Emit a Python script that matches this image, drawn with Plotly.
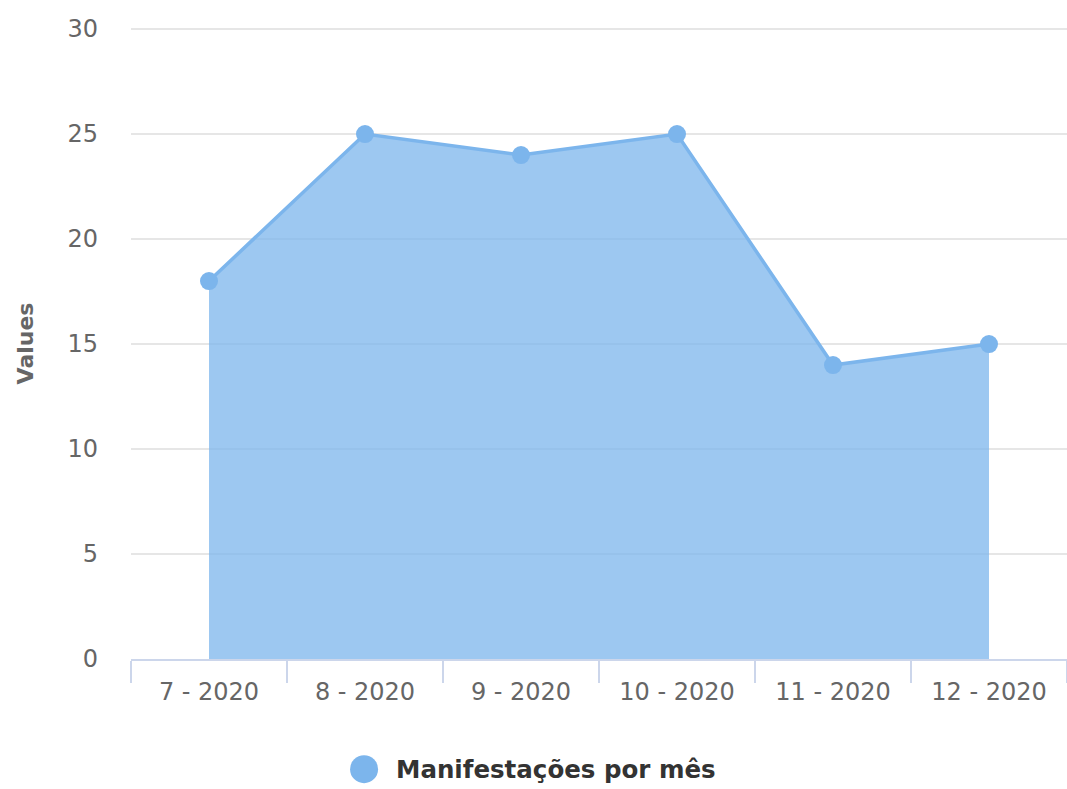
import plotly.graph_objects as go

categories = ["7 - 2020", "8 - 2020", "9 - 2020", "10 - 2020", "11 - 2020", "12 - 2020"]
values = [18, 25, 24, 25, 14, 15]
series_name = "Manifestações por mês"
y_ticks = [0, 5, 10, 15, 20, 25, 30]

COLOR = "#7cb5ec"
FONT = "DejaVu Sans, Verdana, sans-serif"

fig = go.Figure()
fig.add_trace(go.Scatter(
    x=categories, y=values, name=series_name,
    mode="lines+markers",
    fill="tozeroy",
    fillcolor="rgba(124,181,236,0.75)",
    line=dict(color=COLOR, width=3.5),
    marker=dict(color=COLOR, size=18),
    showlegend=False,
))

# Highcharts-style legend: circle symbol + bold label, centred below the plot
fig.add_shape(type="circle", xref="paper", yref="paper",
              xsizemode="pixel", ysizemode="pixel",
              xanchor=0.249, yanchor=-0.1746,
              x0=-14, x1=14, y0=-14, y1=14,
              fillcolor=COLOR, line=dict(width=0))
fig.add_annotation(text="<b>" + series_name + "</b>", xref="paper", yref="paper",
                   x=0.2815, y=-0.1746, xanchor="left", yanchor="middle",
                   showarrow=False,
                   font=dict(family=FONT, size=24.5, color="#333333"))

fig.update_layout(
    width=1067, height=789,
    margin=dict(l=131, r=0, t=28, b=130),
    plot_bgcolor="white", paper_bgcolor="white",
    font=dict(family=FONT, color="#666666", size=25),
    showlegend=False,
)
fig.update_xaxes(
    type="category", range=[-0.5, 5.5], tickson="boundaries",
    showline=True, linecolor="#ccd6eb", linewidth=2,
    ticks="outside", ticklen=22, tickcolor="#ccd6eb", tickwidth=2,
    showgrid=False, ticklabelstandoff=10,
    tickfont=dict(family=FONT, size=24, color="#666666"),
)
fig.update_yaxes(
    range=[0, 30.05], tickvals=y_ticks,
    gridcolor="#e6e6e6", gridwidth=1.5, zeroline=False,
    showline=False, ticklabelstandoff=32,
    tickfont=dict(family=FONT, size=24, color="#666666"),
    title=dict(text="<b>Values</b>", font=dict(family=FONT, size=22, color="#666666"), standoff=27),
)

fig.write_html(
    "out.html",
    config={"displayModeBar": False},
    post_script="document.body.style.margin='0';document.body.style.overflow='hidden';"
                "Plotly.relayout('{plot_id}', {width:1067, height:789});",
)
